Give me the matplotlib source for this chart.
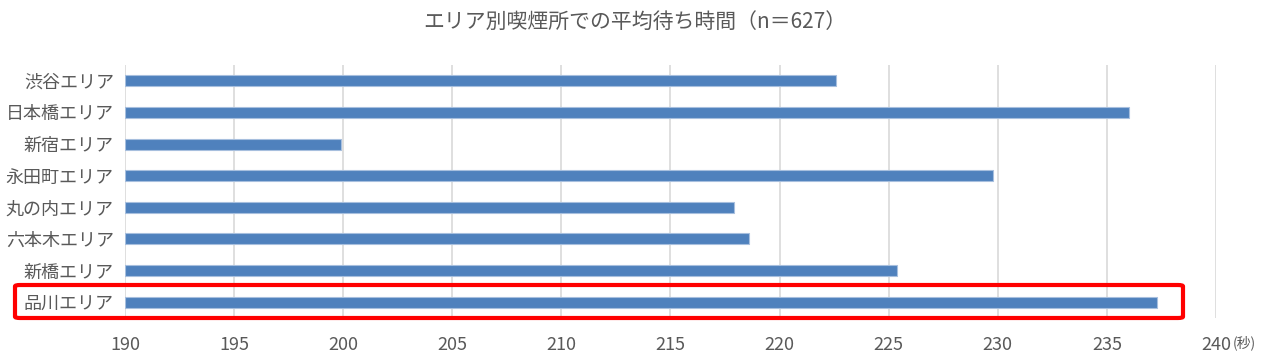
import matplotlib
matplotlib.use('Agg')
from matplotlib import pyplot as plt
from matplotlib.patches import FancyBboxPatch

plt.rcParams['font.family'] = ['Noto Sans CJK JP', 'DejaVu Sans']

# データ
areas = ['渋谷エリア', '日本橋エリア', '新宿エリア', '永田町エリア',
         '丸の内エリア', '六本木エリア', '新橋エリア', '品川エリア']
wait_seconds = [222.6, 236.0, 199.9, 229.8, 217.9, 218.6, 225.4, 237.3]
x_ticks = [190, 195, 200, 205, 210, 215, 220, 225, 230, 235, 240]

text_color = '#595959'

fig = plt.figure(figsize=(12.7, 3.61), dpi=100)
ax = fig.add_axes([0.0984, 0.119, 0.8591, 0.701])

y_pos = list(range(len(areas)))[::-1]
ax.barh(y_pos, [v - 190 for v in wait_seconds], left=190, height=0.35,
        color='#4F81BD', edgecolor='#A7BFDE', linewidth=0.8, zorder=3)

ax.set_xlim(190, 240)
ax.set_ylim(-0.5, len(areas) - 0.5)
ax.set_yticks(y_pos)
ax.set_yticklabels(areas, fontsize=13, color=text_color)
ax.set_xticks(x_ticks)
ax.set_xticklabels([str(t) for t in x_ticks], fontsize=13, color=text_color)
ax.tick_params(axis='both', length=0, pad=8)
ax.tick_params(axis='x', pad=13)

ax.grid(axis='x', color='#D9D9D9', linewidth=1.2, zorder=0)
for s in ax.spines.values():
    s.set_visible(False)

fig.text(0.5, 0.94, 'エリア別喫煙所での平均待ち時間（n＝627）', ha='center', va='center',
         fontsize=15, color=text_color)
fig.text(0.971, 0.05, '(秒)', ha='left', va='center', fontsize=10, color=text_color)

# 品川エリアを赤枠で強調
box = FancyBboxPatch((15 / 1270, 1 - 318 / 361), (1183 - 15) / 1270, (318 - 285) / 361,
                     boxstyle='round,pad=0,rounding_size=0.004', transform=fig.transFigure,
                     fill=False, edgecolor='#FF0000', linewidth=3, zorder=10)
fig.patches.append(box)

plt.savefig('out.png', dpi=100)
